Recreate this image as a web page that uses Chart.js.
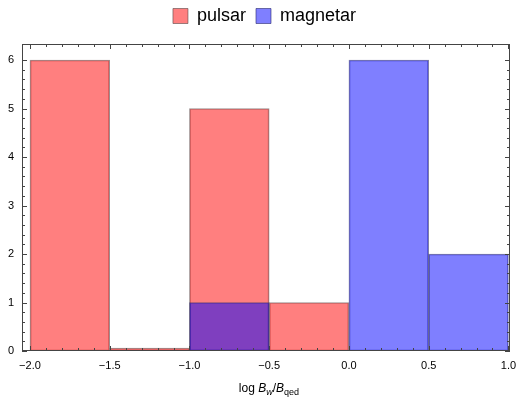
<!DOCTYPE html>
<html>
<head>
<meta charset="utf-8">
<script src="https://cdn.jsdelivr.net/npm/chart.js@4"></script>
<style>
  body { margin: 0; background: #fff; }
  #wrap { position: relative; width: 517px; height: 401px; }
  #xtitle {
    position: absolute; left: 0; width: 538px; top: 381px; text-align: center;
    font-family: "Liberation Sans", Arial, sans-serif; font-size: 12px; color: #000;
  }
  #xtitle sub { font-size: 9px; vertical-align: -3px; line-height: 0; }
</style>
</head>
<body>
<div id="wrap">
  <canvas id="chart" width="517" height="401"></canvas>
  <div id="xtitle">log <i>B</i><sub><i>w</i></sub>/<i>B</i><sub>qed</sub></div>
</div>
<script>
// ขอบของแต่ละช่อง histogram
const binEdges = [-2.0, -1.5, -1.0, -0.5, 0.0, 0.5, 1.0];
// จำนวนในแต่ละช่อง (null = ไม่มีแท่ง)
const pulsarCounts = [6, 0, 5, 1, null, null];
const magnetarCounts = [null, null, 1, null, 6, 2];
const yTicks = [0, 1, 2, 3, 4, 5, 6];

const font = "'Liberation Sans', Arial, sans-serif";

// แปลงเป็นจุดกึ่งกลางช่อง
function toBars(counts) {
  return counts.map((c, i) => ({ x: (binEdges[i] + binEdges[i + 1]) / 2, y: c }));
}

// เว้นที่ใต้ legend เพิ่ม และเลื่อน legend ไปให้ตรงกลางกรอบกราฟ
const legendGap = {
  id: 'legendGap',
  beforeInit(chart) {
    const fit = chart.legend.fit;
    chart.legend.fit = function () {
      fit.bind(chart.legend)();
      this.height += 9;
    };
  },
  afterLayout(chart) {
    chart.legend.left += 6;
    chart.legend.right += 6;
  }
};

// วาดกรอบและขีด tick ชี้เข้าด้านใน (ทั้ง 4 ด้าน)
const framePlugin = {
  id: 'frame',
  afterDraw(chart) {
    const { ctx, chartArea: a } = chart;
    const xs = chart.scales.x, ys = chart.scales.y;
    ctx.save();
    ctx.strokeStyle = '#444';
    ctx.lineWidth = 1;
    ctx.strokeRect(a.left + 0.5, a.top + 0.5, a.right - a.left - 1, a.bottom - a.top - 1);
    ctx.beginPath();
    for (let v = -20; v <= 10; v++) {
      const px = Math.round(xs.getPixelForValue(v / 10)) + 0.5;
      const len = v % 5 === 0 ? 5 : 3;
      ctx.moveTo(px, a.bottom); ctx.lineTo(px, a.bottom - len);
      ctx.moveTo(px, a.top); ctx.lineTo(px, a.top + len);
    }
    for (let v = 0; v <= 30; v++) {
      const py = Math.round(ys.getPixelForValue(v / 5)) + 0.5;
      const len = v % 5 === 0 ? 5 : 3;
      ctx.moveTo(a.left, py); ctx.lineTo(a.left + len, py);
      ctx.moveTo(a.right, py); ctx.lineTo(a.right - len, py);
    }
    ctx.stroke();
    ctx.restore();
  }
};

new Chart(document.getElementById('chart'), {
  type: 'bar',
  data: {
    datasets: [{
      label: 'pulsar',
      data: toBars(pulsarCounts),
      backgroundColor: 'rgba(255, 0, 0, 0.5)',
      borderColor: 'rgba(90, 70, 70, 0.6)',
      borderWidth: 1,
      borderSkipped: false,
      minBarLength: 3,
      order: 1
    }, {
      label: 'magnetar',
      data: toBars(magnetarCounts),
      backgroundColor: 'rgba(0, 0, 255, 0.5)',
      borderColor: 'rgba(40, 40, 110, 0.6)',
      borderWidth: 1,
      borderSkipped: false,
      order: 0
    }]
  },
  options: {
    responsive: false,
    animation: false,
    grouped: false,
    categoryPercentage: 1,
    barPercentage: 1,
    layout: { padding: { left: 0, right: 0, top: -3, bottom: 0 } },
    plugins: {
      legend: {
        labels: {
          boxWidth: 15, boxHeight: 15, padding: 10,
          color: '#000',
          font: { family: font, size: 18 },
          sort: (a, b) => a.datasetIndex - b.datasetIndex
        }
      },
      tooltip: { enabled: false }
    },
    scales: {
      x: {
        type: 'linear',
        offset: false,
        min: -2.05,
        max: 1.01,
        grid: { display: false, drawTicks: false },
        border: { display: false },
        afterBuildTicks: s => { s.ticks = binEdges.map(v => ({ value: v })); },
        afterFit: s => { s.height = 50; s.paddingLeft = 0; s.paddingRight = 7; },
        ticks: {
          padding: 8,
          color: '#000',
          font: { family: font, size: 11 },
          callback: v => (v < 0 ? '\u2212' : '') + Math.abs(v).toFixed(1)
        }
      },
      y: {
        min: 0,
        max: 6.33,
        grid: { display: false, drawTicks: false },
        border: { display: false },
        afterBuildTicks: s => { s.ticks = yTicks.map(v => ({ value: v })); },
        afterFit: s => { s.width = 22; },
        ticks: {
          padding: 8,
          color: '#000',
          font: { family: font, size: 11 }
        }
      }
    }
  },
  plugins: [legendGap, framePlugin]
});
</script>
</body>
</html>
